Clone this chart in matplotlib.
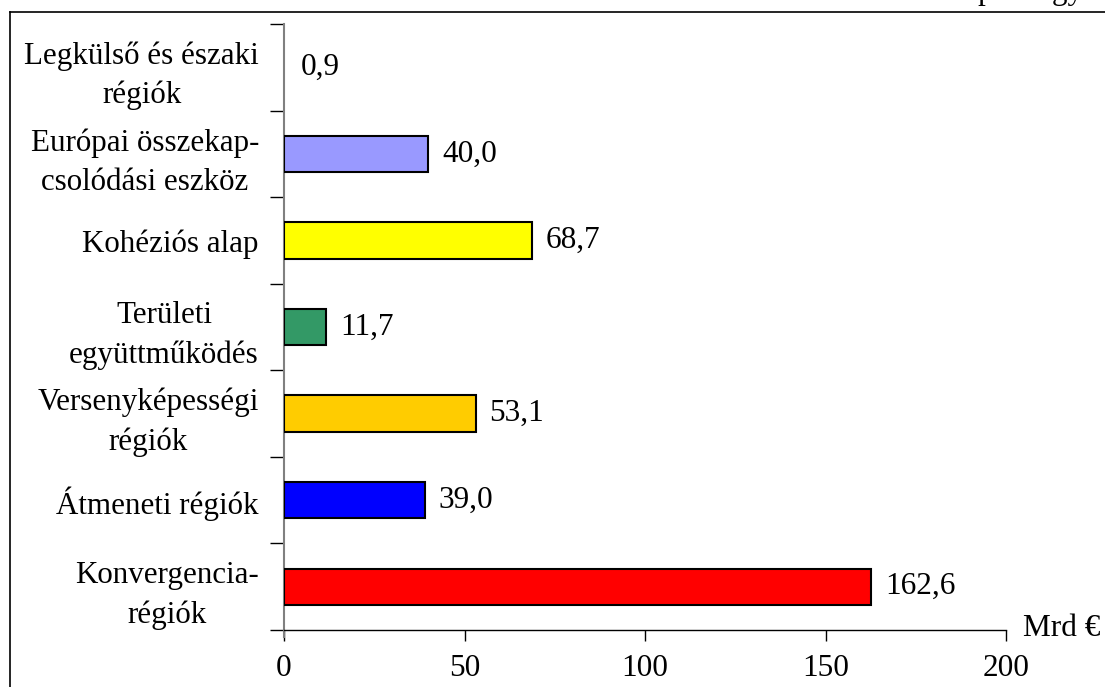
import matplotlib
matplotlib.use("Agg")
import matplotlib.pyplot as plt
from matplotlib.lines import Line2D

categories = ["Konvergencia-\nrégiók", "Átmeneti régiók", "Versenyképességi\nrégiók",
              "Területi\negyüttműködés", "Kohéziós alap", "Európai összekap-\ncsolódási eszköz",
              "Legkülső és északi\nrégiók"]
values = [162.6, 39.0, 53.1, 11.7, 68.7, 40.0, 0.9]
value_labels = ["162,6", "39,0", "53,1", "11,7", "68,7", "40,0", "0,9"]
colors = ["#FF0000", "#0000FF", "#FFCC00", "#339966", "#FFFF00", "#9999FF", "none"]
xticks = [0, 50, 100, 150, 200]

plt.rcParams['font.family'] = ['Liberation Serif', 'DejaVu Serif']

W, H = 1105, 687
fig = plt.figure(figsize=(W / 100, H / 100), dpi=100)
ax = fig.add_axes([284 / W, 1 - 630 / H, (1006 - 284) / W, (630 - 24) / H])

ypos = list(range(len(categories)))
for y, v, c in zip(ypos, values, colors):
    ec = "black" if c != "none" else "none"
    ax.barh(y, v, height=0.42, color=c, edgecolor=ec, linewidth=1.5, zorder=3)
for y, v, lab in zip(ypos, values, value_labels):
    ax.annotate(lab, (v, y), xytext=(10, 0), textcoords="offset points",
                ha="left", va="center", fontsize=22.5)

ax.set_xlim(0, 200)
ax.set_ylim(-0.5, len(categories) - 0.5)
ax.set_xticks(xticks)
ax.set_xticklabels([str(t) for t in xticks], fontsize=22.5)
ax.tick_params(axis="x", direction="out", length=8, width=1, pad=9, color="black")

ax.set_yticks(ypos)
ax.set_yticklabels(categories, fontsize=22.3, multialignment="center", linespacing=1.45)
ax.tick_params(axis="y", which="major", length=0, pad=18)
ax.set_yticks([i - 0.5 for i in range(len(categories) + 1)], minor=True)
ax.tick_params(axis="y", which="minor", direction="out", length=10, width=1, color="black")

for s in ["top", "right"]:
    ax.spines[s].set_visible(False)
ax.spines["left"].set_color("#808080")
ax.spines["left"].set_linewidth(1.5)
ax.spines["left"].set_bounds(-0.58, len(categories) - 0.5)
ax.spines["bottom"].set_color("black")
ax.spines["bottom"].set_linewidth(1)

ax.text(1.023, 0.003, "Mrd €", transform=ax.transAxes, ha="left", va="center", fontsize=22.5)

# outer frame (top and left edges)
fig.add_artist(Line2D([10 / W, 1.0], [1 - 12 / H, 1 - 12 / H], color="black", linewidth=1.2,
                      transform=fig.transFigure))
fig.add_artist(Line2D([10 / W, 10 / W], [0.0, 1 - 12 / H], color="black", linewidth=1.2,
                      transform=fig.transFigure))
# cropped heading at top right
fig.text(1092 / W, 1 + 1 / H, "pénzügyi", ha="right", va="baseline", fontsize=22.5)

fig.savefig("out.png", dpi=100)
